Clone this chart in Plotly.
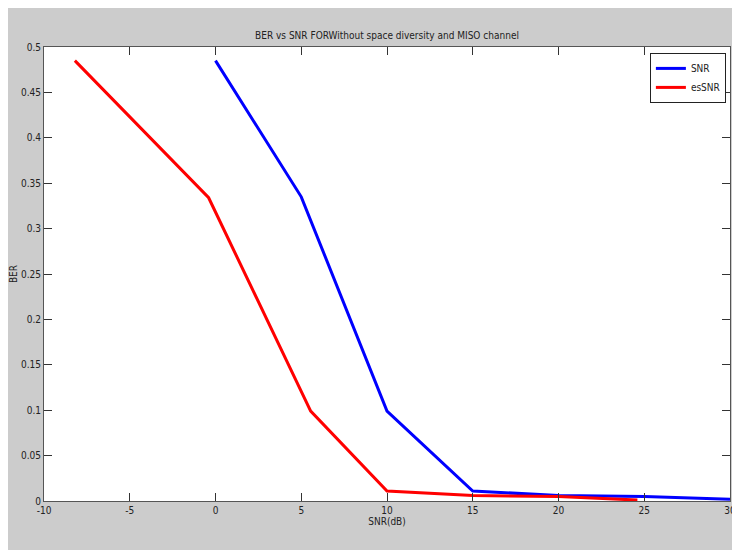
import plotly.graph_objects as go

snr_x = [0, 5, 10, 15, 20, 25, 30]
snr_ber = [0.485, 0.335, 0.099, 0.011, 0.006, 0.005, 0.002]

es_x = [-8.2, -0.4, 5.55, 10.0, 15.0, 20.0, 24.6]
es_ber = [0.485, 0.334, 0.099, 0.011, 0.006, 0.005, 0.001]

x_ticks = [-10, -5, 0, 5, 10, 15, 20, 25, 30]
x_tick_labels = ["-10", "-5", "0", "5", "10", "15", "20", "25", "30"]
y_ticks = [0, 0.05, 0.1, 0.15, 0.2, 0.25, 0.3, 0.35, 0.4, 0.45, 0.5]
y_tick_labels = ["0", "0.05", "0.1", "0.15", "0.2", "0.25", "0.3", "0.35", "0.4", "0.45", "0.5"]

FONT = "DejaVu Sans Condensed, Liberation Sans Narrow, Arial Narrow, Liberation Sans, Arial, sans-serif"

fig = go.Figure()
fig.add_trace(go.Scatter(x=snr_x, y=snr_ber, mode="lines", name="SNR",
                         line=dict(color="#0000ff", width=3)))
fig.add_trace(go.Scatter(x=es_x, y=es_ber, mode="lines", name="esSNR",
                         line=dict(color="#ff0000", width=3)))

# the page body adds an 8px white offset at the top-left
W, H = 732, 542
L, R, T, B = 36, 10, 39, 49
pw, ph = W - L - R, H - T - B

axis_common = dict(showgrid=False, zeroline=False, ticks="inside", ticklen=8,
                   tickcolor="#333333", showline=True, linecolor="#555555",
                   linewidth=1, mirror="ticks", automargin=False,
                   tickfont=dict(family=FONT, size=10, color="#222222"))

fig.update_layout(
    width=W, height=H,
    margin=dict(l=L, r=R, t=T, b=B),
    paper_bgcolor="#cccccc",
    plot_bgcolor="white",
    title=dict(text="BER vs SNR FORWithout space diversity and MISO channel",
               x=(L + pw / 2) / W, xanchor="center", y=1 - 27 / H, yanchor="middle",
               font=dict(family=FONT, size=10, color="#222222")),
    xaxis=dict(range=[-10, 30], tickvals=x_ticks, ticktext=x_tick_labels,
               title=dict(text="SNR(dB)", standoff=0,
                          font=dict(family=FONT, size=10, color="#222222")),
               **axis_common),
    yaxis=dict(range=[0, 0.5], tickvals=y_ticks, ticktext=y_tick_labels,
               title=dict(text="BER", standoff=2,
                          font=dict(family=FONT, size=10, color="#222222")),
               **axis_common),
    legend=dict(x=0.994, xanchor="right", y=0.987, yanchor="top",
                bgcolor="white", bordercolor="#222222", borderwidth=1,
                font=dict(family=FONT, size=10, color="#222222"),
                itemwidth=30, tracegroupgap=0),
    showlegend=True,
)

fig.write_html("out.html")
